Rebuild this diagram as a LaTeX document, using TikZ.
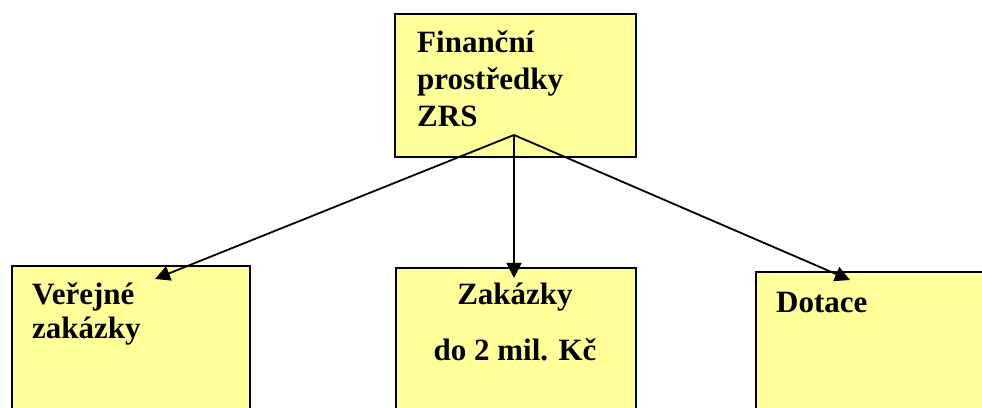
\documentclass[tikz,border=0pt]{standalone}
\usepackage{fontspec}
\setmainfont{Liberation Serif}
\usetikzlibrary{arrows.meta}
\definecolor{boxfill}{RGB}{255,255,153}
\tikzset{
  box/.style={draw=black, fill=boxfill, line width=2pt, anchor=north west, inner sep=0pt},
  label/.style={inner sep=0pt, font=\fontsize{31}{37}\selectfont\bfseries},
  link/.style={line width=1.8pt, -{Triangle[length=15pt,width=15pt]}}
}
\begin{document}
\begin{tikzpicture}[x=1pt,y=1pt]
\useasboundingbox (0,0) rectangle (982,407);
\clip (0,0) rectangle (982,407);
\fill[white] (0,0) rectangle (982,407);
% boxes
\node[box, minimum width=241pt, minimum height=143pt] (top) at (394,394) {};
\node[box, minimum width=238pt, minimum height=170pt] (left) at (11,142) {};
\node[box, minimum width=240pt, minimum height=170pt] (mid) at (395,140) {};
\node[box, minimum width=260pt, minimum height=170pt] (right) at (755,136) {};
% labels
\node[label, anchor=base west] (t1) at (417,354) {Finanční};
\node[label, anchor=base west] (t2) at (417,317) {prostředky};
\node[label, anchor=base west] (t3) at (417,280) {ZRS};
\node[label, anchor=base west] (l1) at (32,102) {Veřejné};
\node[label, anchor=base west] (l2) at (32,69) {zakázky};
\node[label, anchor=base] (m1) at (515,102) {Zakázky};
\node[label, anchor=base] (m2) at (515,47) {do 2 mil. Kč};
\node[label, anchor=base west] (r1) at (776,95) {Dotace};
% connectors
\coordinate (src) at (514,272);
\coordinate (endL) at (155,128);
\coordinate (endM) at (514,129);
\coordinate (endR) at (850,127);
\draw[link] (src) -- (endL);
\draw[link] (src) -- (endM);
\draw[link] (src) -- (endR);
\end{tikzpicture}
\end{document}
